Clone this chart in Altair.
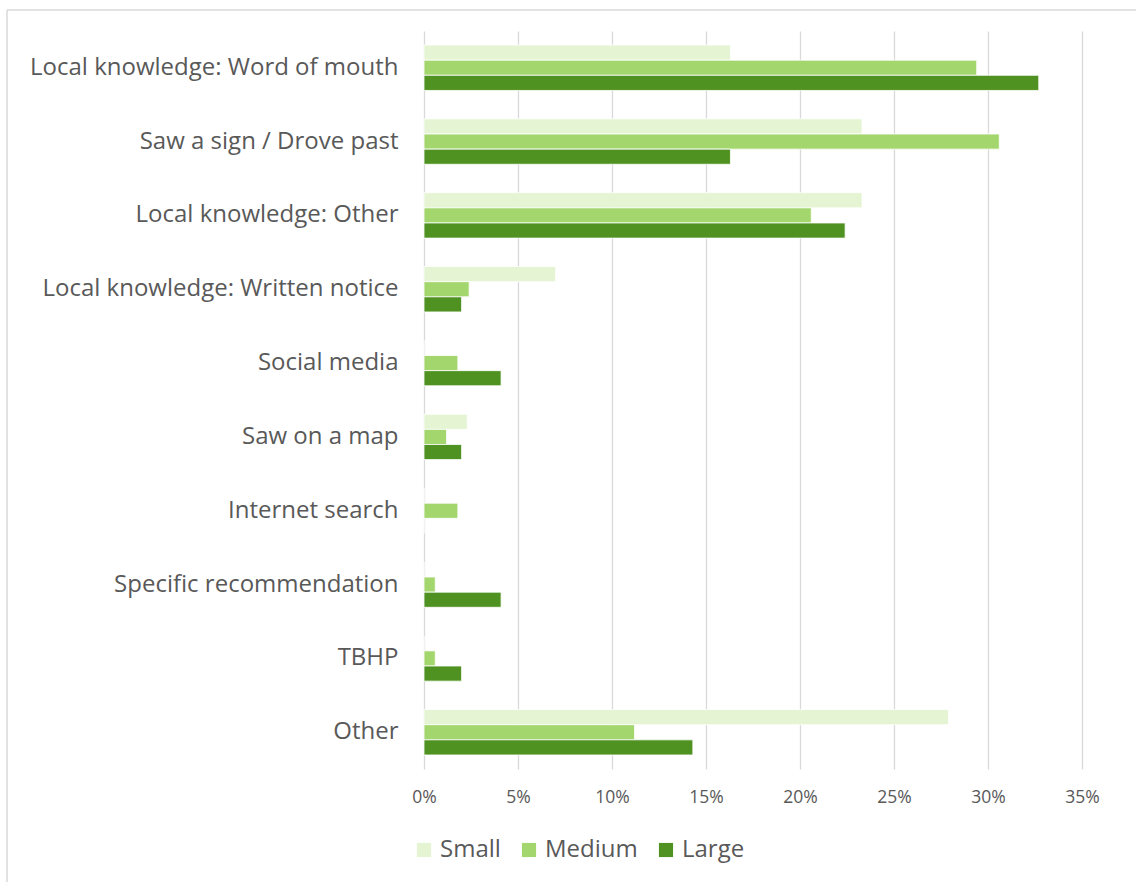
import altair as alt
import pandas as pd

categories = [
    "Local knowledge: Word of mouth",
    "Saw a sign / Drove past",
    "Local knowledge: Other",
    "Local knowledge: Written notice",
    "Social media",
    "Saw on a map",
    "Internet search",
    "Specific recommendation",
    "TBHP",
    "Other",
]
sizes = ["Small", "Medium", "Large"]
small = [16.3, 23.3, 23.3, 7.0, 0.0, 2.3, 0.0, 0.0, 0.0, 27.9]
medium = [29.4, 30.6, 20.6, 2.4, 1.8, 1.2, 1.8, 0.6, 0.6, 11.2]
large = [32.7, 16.3, 22.4, 2.0, 4.1, 2.0, 0.0, 4.1, 2.0, 14.3]
colors = ["#E5F4D3", "#A3D76E", "#4F9222"]
x_ticks = [0, 5, 10, 15, 20, 25, 30, 35]

rows = []
for series_name, vals in zip(sizes, [small, medium, large]):
    for c, v in zip(categories, vals):
        rows.append({"category": c, "size": series_name, "value": v})
df = pd.DataFrame(rows)

FONT = "Open Sans"
TXT = "#595959"

bars = alt.Chart(df).mark_bar(stroke="white", strokeWidth=0.8).encode(
    y=alt.Y(
        "category:N",
        sort=categories,
        scale=alt.Scale(paddingInner=0.385, paddingOuter=0.19),
        axis=alt.Axis(
            title=None, ticks=False, domain=False, grid=False,
            labelFontSize=24, labelColor=TXT, labelFont=FONT,
            labelPadding=26, labelLimit=420,
        ),
    ),
    yOffset=alt.YOffset("size:N", sort=sizes),
    x=alt.X(
        "value:Q",
        scale=alt.Scale(domain=[0, 35], nice=False),
        axis=alt.Axis(
            title=None, values=x_ticks, labelExpr="datum.value + '%'",
            ticks=False, domain=False, grid=True, gridColor="#D9D9D9",
            gridWidth=1.3, labelFontSize=17.5, labelColor=TXT, labelFont=FONT,
            labelPadding=19, labelFlush=False,
        ),
    ),
    color=alt.Color(
        "size:N",
        sort=sizes,
        scale=alt.Scale(domain=sizes, range=colors),
        legend=alt.Legend(
            title=None, orient="none", direction="horizontal",
            legendX=-12, legendY=807, symbolType="square", symbolSize=200,
            symbolStrokeWidth=0, labelFontSize=24, labelColor=TXT,
            labelFont=FONT, columnPadding=16, labelOffset=4,
        ),
    ),
)

border_top = alt.Chart(alt.Data(values=[{}])).mark_rule(color="#D9D9D9", strokeWidth=1.5).encode(
    x=alt.value(-417), x2=alt.value(730), y=alt.value(-21)
)
border_left = alt.Chart(alt.Data(values=[{}])).mark_rule(color="#D9D9D9", strokeWidth=1.5).encode(
    x=alt.value(-417), y=alt.value(-21), y2=alt.value(870)
)

chart = alt.layer(bars, border_top, border_left).properties(
    width=658,
    height=738,
    padding={"left": 424, "top": 31, "right": 54, "bottom": 113},
    autosize=alt.AutoSizeParams(type="none"),
    background="white",
).configure_view(stroke=None)

chart.save("out.html", embed_options={"renderer": "svg", "actions": False})
